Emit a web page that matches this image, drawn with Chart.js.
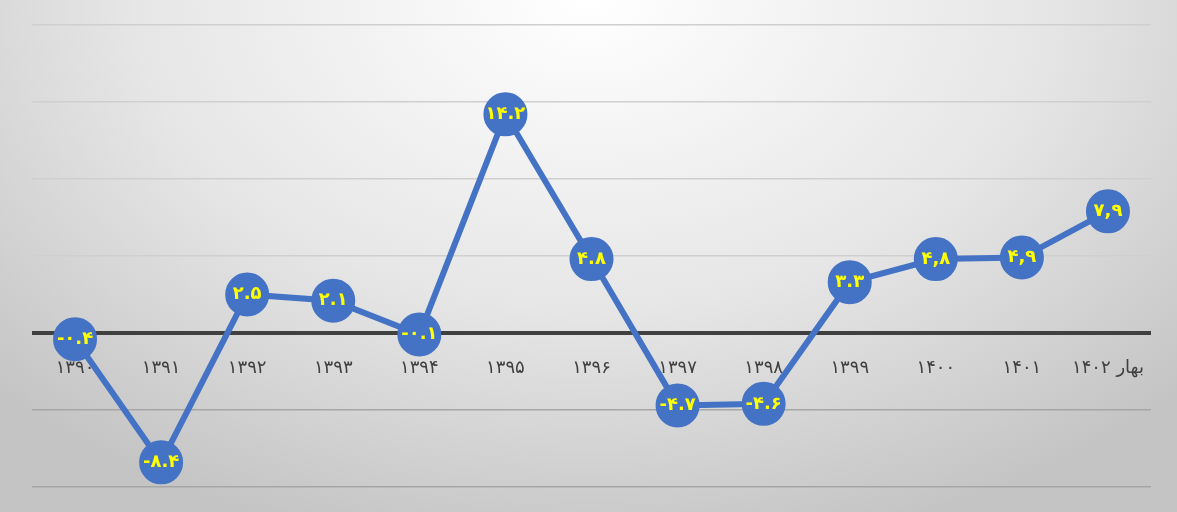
<!DOCTYPE html>
<html><head><meta charset="utf-8">
<script src="https://cdn.jsdelivr.net/npm/chart.js@4"></script>
<style>
html,body{margin:0;padding:0;}
#wrap{width:1177px;height:512px;background:radial-gradient(ellipse 70% 110% at 50% 0%,#ffffff 0%,#e6e6e6 55%,#c4c4c4 100%);}
</style></head><body>
<div id="wrap"><canvas id="c" width="1177" height="512"></canvas></div>
<script>
const categories=["۱۳۹۰","۱۳۹۱","۱۳۹۲","۱۳۹۳","۱۳۹۴","۱۳۹۵","۱۳۹۶","۱۳۹۷","۱۳۹۸","۱۳۹۹","۱۴۰۰","۱۴۰۱","بهار ۱۴۰۲"];
const values=[-0.4,-8.4,2.5,2.1,-0.1,14.2,4.8,-4.7,-4.6,3.3,4.8,4.9,7.9];
const pointLabels=["-۰.۴","-۸.۴","۲.۵","۲.۱","-۰.۱","۱۴.۲","۴.۸","-۴.۷","-۴.۶","۳.۳","۴,۸","۴,۹","۷,۹"];
const labelPlugin={id:'lbl',afterDatasetsDraw(chart){
 const ctx=chart.ctx;const meta=chart.getDatasetMeta(0);
 ctx.save();ctx.fillStyle='#FFFF00';ctx.font='bold 18px "DejaVu Sans"';ctx.textAlign='center';ctx.textBaseline='middle';
 meta.data.forEach((p,i)=>ctx.fillText(pointLabels[i],p.x,p.y));ctx.restore();}};
new Chart(document.getElementById('c'),{type:'line',
 data:{labels:categories,datasets:[{data:values,borderColor:'#4472C4',borderWidth:6,pointRadius:19,pointHoverRadius:19,pointBackgroundColor:'#4472C4',pointBorderColor:'#4472C4',tension:0}]},
 options:{responsive:false,animation:false,layout:{padding:{left:32,right:26,top:24,bottom:23}},
  plugins:{legend:{display:false},tooltip:{enabled:false}},
  scales:{
   x:{position:{y:0},offset:true,grid:{display:false},border:{display:false},
      ticks:{color:'#404040',font:{size:18,family:'"DejaVu Sans"'},padding:17,maxRotation:0,autoSkip:false}},
   y:{min:-10,max:20,ticks:{display:false,stepSize:5},border:{display:false},
      grid:{drawTicks:false,color:c=>c.tick.value===0?'#404040':(c.tick.value<0?'#a6a6a6':'#cfcfcf'),lineWidth:c=>c.tick.value===0?4:1.5}}
  }},plugins:[labelPlugin]});
</script></body></html>
